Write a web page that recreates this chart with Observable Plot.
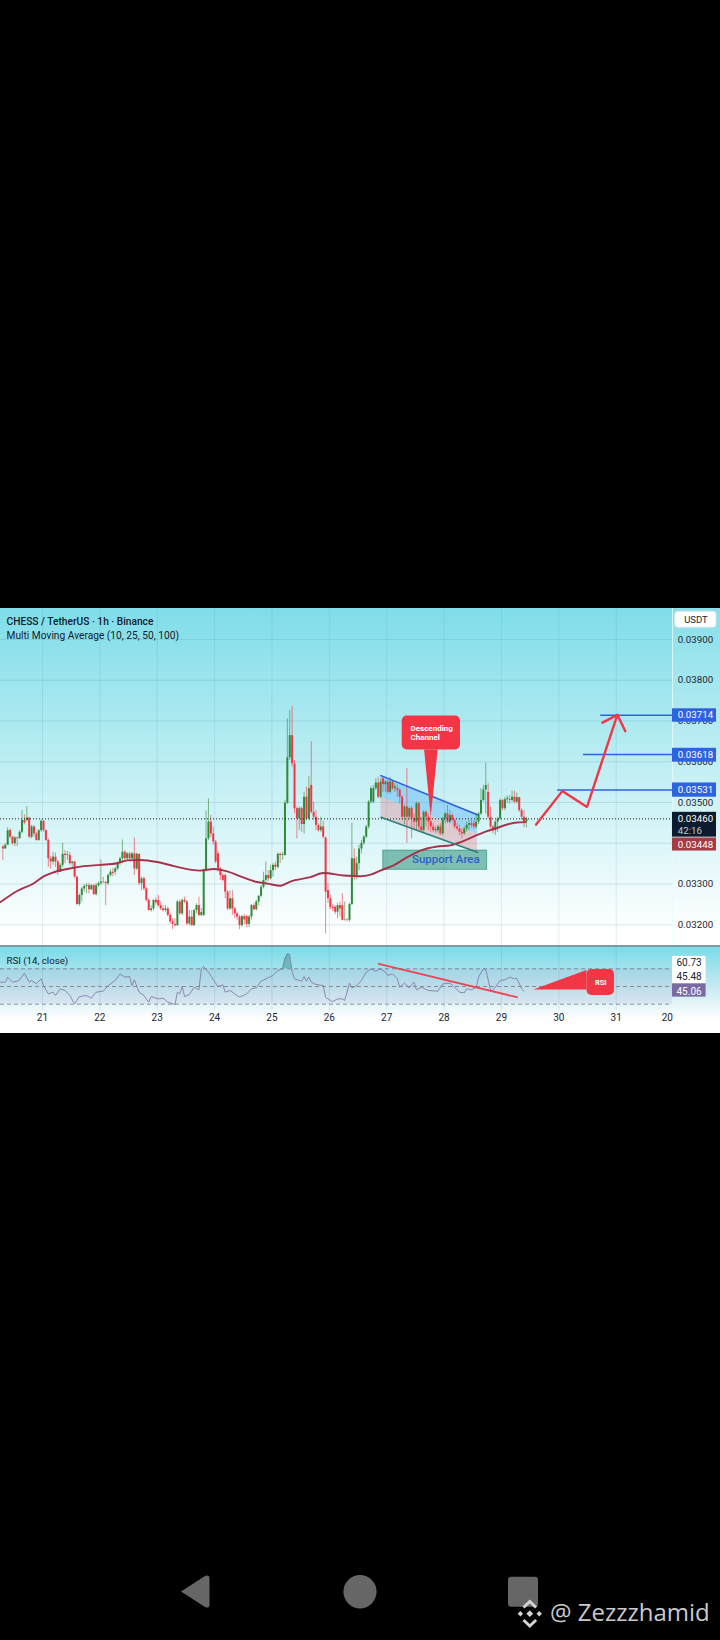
<!DOCTYPE html>
<html><head><meta charset="utf-8">
<script src="https://cdn.jsdelivr.net/npm/d3@7"></script>
<script src="https://cdn.jsdelivr.net/npm/@observablehq/plot@0.6"></script>
<style>
html,body{margin:0;padding:0;background:#000;width:720px;height:1640px;overflow:hidden;font-family:Roboto,sans-serif}
#main{position:absolute;left:0;top:608px;width:720px}
#rsi{position:absolute;left:0;top:946px;width:720px}
#divider{position:absolute;left:0;top:945px;width:720px;height:2px;background:#7d99a6}
#foot{position:absolute;left:0;top:1540px}
#handle{position:absolute;left:550px;top:1595px;font:400 24px "Open Sans",sans-serif;color:#c9c9ce;white-space:nowrap}
</style></head><body>
<div id="main"></div><div id="rsi"></div><div id="divider"></div>
<svg id="foot" width="720" height="100" viewBox="0 1540 720 100">
<path d="M181 1591.5 L205 1576 Q209.5 1574 209.5 1578.5 L209.5 1604.5 Q209.5 1609 205 1607 Z" fill="#666"/>
<ellipse cx="360" cy="1591.7" rx="16.6" ry="16.7" fill="#666"/>
<rect x="508" y="1576.7" width="30" height="30" rx="3" fill="#666"/>
<g fill="none" stroke="#d4d4d8" stroke-width="3"><path d="M523.5 1607.5 L529.8 1601.5 L536.1 1607.5"/><path d="M523.5 1620 L529.8 1626 L536.1 1620"/></g>
<g fill="#d4d4d8"><rect x="527.4" y="1611.3" width="4.8" height="4.8" transform="rotate(45 529.8 1613.7)"/><rect x="518.5" y="1611.8" width="3.8" height="3.8" transform="rotate(45 520.4 1613.7)"/><rect x="537.3" y="1611.8" width="3.8" height="3.8" transform="rotate(45 539.2 1613.7)"/></g>
</svg>
<div id="handle">@ Zezzzhamid</div>
<script>
// ---- time axis ----
const startDay = 20.268, endDay = 32.818, axisEdgeDay = 31.981;
const gridDays = [21,22,23,24,25,26,27,28,29,30,31];
const tickDays = [21,22,23,24,25,26,27,28,29,30,31,31.89];
const tickLabels = ["21","22","23","24","25","26","27","28","29","30","31","20"];
// ---- hourly candles, price x 1e-5 ----
const opens = [
3391,3386,3395,3431,3415,3399,3413,3411,3427,3456,
3456,3462,3415,3440,3423,3407,3431,3454,3431,3407,
3362,3354,3366,3354,3329,3346,3373,3370,3370,3350,
3354,3317,3250,3272,3288,3294,3296,3286,3296,3274,
3296,3301,3305,3304,3301,3321,3329,3329,3337,3350,
3362,3378,3362,3374,3362,3374,3337,3373,3301,3313,
3288,3260,3235,3239,3260,3260,3247,3239,3235,3239,
3223,3207,3201,3198,3256,3227,3260,3256,3202,3219,
3198,3235,3247,3223,3223,3333,3411,3452,3423,3403,
3374,3337,3321,3321,3280,3239,3264,3239,3227,3219,
3198,3220,3220,3201,3219,3247,3237,3256,3270,3292,
3309,3321,3313,3333,3346,3341,3373,3370,3370,3498,
3610,3664,3595,3485,3460,3485,3446,3513,3460,3542,
3476,3464,3444,3431,3440,3413,3284,3264,3243,3243,
3231,3247,3247,3211,3212,3211,3250,3362,3321,3350,
3386,3400,3415,3440,3501,3501,3534,3548,3513,3558,
3544,3550,3525,3550,3534,3534,3530,3513,3464,3489,
3464,3485,3460,3452,3497,3440,3431,3476,3464,3452,
3440,3431,3431,3440,3423,3460,3472,3452,3468,3456,
3440,3435,3427,3423,3435,3444,3448,3448,3440,3452,
3472,3505,3531,3525,3464,3440,3431,3452,3460,3505,
3485,3507,3507,3505,3513,3501,3512,3480,3464,3452];
const closes = [
3386,3395,3431,3415,3399,3413,3411,3427,3456,3450,
3462,3415,3440,3423,3407,3431,3454,3431,3407,3362,
3354,3366,3354,3329,3346,3373,3370,3372,3350,3354,
3317,3250,3272,3288,3294,3296,3286,3296,3274,3296,
3301,3305,3304,3301,3321,3329,3326,3337,3350,3362,
3378,3362,3374,3362,3374,3337,3373,3301,3313,3288,
3260,3235,3239,3260,3254,3247,3239,3235,3239,3223,
3207,3201,3198,3256,3227,3260,3256,3202,3219,3198,
3235,3247,3223,3230,3333,3411,3452,3423,3403,3354,
3337,3321,3309,3280,3239,3264,3239,3227,3219,3198,
3220,3212,3201,3219,3247,3237,3256,3270,3292,3309,
3321,3313,3333,3346,3341,3373,3370,3372,3498,3610,
3664,3595,3485,3460,3485,3446,3513,3460,3534,3476,
3464,3444,3431,3440,3415,3280,3264,3243,3240,3231,
3247,3239,3211,3212,3211,3250,3362,3321,3350,3386,
3400,3415,3440,3501,3534,3534,3548,3513,3550,3544,
3550,3525,3550,3534,3538,3530,3513,3464,3489,3464,
3485,3460,3452,3497,3440,3431,3476,3464,3452,3440,
3431,3434,3440,3423,3460,3472,3452,3468,3456,3440,
3435,3427,3423,3435,3444,3448,3444,3440,3452,3472,
3505,3531,3542,3464,3440,3431,3452,3460,3505,3485,
3507,3510,3505,3513,3501,3512,3480,3464,3452,3460];
const highs = [
3395,3399,3438,3435,3417,3417,3415,3431,3480,3470,
3490,3464,3444,3444,3427,3433,3458,3456,3433,3411,
3368,3378,3376,3358,3350,3400,3382,3380,3378,3356,
3356,3319,3276,3292,3299,3301,3302,3299,3299,3301,
3305,3359,3317,3306,3325,3335,3338,3341,3354,3366,
3408,3382,3378,3378,3378,3413,3376,3374,3317,3317,
3292,3264,3247,3261,3266,3272,3256,3247,3247,3243,
3227,3215,3215,3260,3261,3264,3268,3260,3235,3235,
3239,3252,3268,3240,3337,3479,3509,3468,3440,3407,
3381,3341,3325,3325,3284,3283,3284,3243,3231,3223,
3223,3225,3223,3223,3250,3252,3260,3272,3296,3329,
3354,3333,3346,3350,3354,3376,3376,3378,3505,3705,
3726,3736,3603,3489,3489,3489,3525,3538,3564,3649,
3501,3480,3448,3464,3454,3415,3301,3272,3250,3247,
3253,3256,3276,3256,3215,3253,3449,3386,3366,3395,
3407,3419,3444,3505,3539,3542,3558,3562,3558,3562,
3554,3554,3562,3554,3545,3542,3534,3517,3493,3583,
3489,3490,3472,3501,3501,3464,3480,3480,3472,3464,
3448,3440,3444,3448,3464,3476,3493,3480,3472,3460,
3448,3444,3435,3440,3452,3456,3456,3456,3472,3476,
3534,3542,3597,3546,3489,3444,3456,3464,3509,3507,
3513,3516,3517,3528,3528,3523,3513,3485,3480,3464];
const lows = [
3358,3386,3395,3411,3395,3392,3392,3411,3423,3445,
3452,3411,3411,3415,3405,3405,3427,3427,3405,3341,
3337,3346,3341,3321,3329,3341,3350,3358,3346,3341,
3313,3247,3245,3256,3280,3276,3276,3284,3272,3271,
3292,3296,3301,3247,3296,3317,3318,3321,3333,3346,
3350,3358,3358,3358,3358,3321,3333,3296,3284,3284,
3256,3234,3231,3234,3248,3243,3235,3231,3231,3219,
3202,3188,3194,3196,3223,3223,3252,3198,3198,3196,
3196,3227,3220,3220,3220,3329,3407,3415,3395,3350,
3329,3309,3305,3264,3235,3235,3223,3215,3211,3188,
3194,3200,3193,3193,3212,3234,3234,3247,3266,3288,
3296,3305,3310,3317,3333,3337,3350,3358,3368,3495,
3603,3587,3472,3411,3431,3427,3423,3456,3456,3472,
3456,3431,3427,3427,3411,3178,3252,3237,3232,3225,
3215,3219,3209,3209,3207,3207,3247,3309,3310,3333,
3374,3395,3411,3435,3497,3497,3530,3509,3509,3525,
3525,3521,3521,3530,3525,3513,3497,3456,3446,3400,
3456,3411,3431,3431,3431,3427,3427,3440,3431,3427,
3427,3425,3425,3419,3419,3448,3448,3448,3452,3435,
3430,3419,3411,3419,3427,3431,3437,3435,3435,3446,
3468,3501,3472,3460,3435,3423,3419,3427,3456,3480,
3480,3498,3497,3501,3497,3497,3476,3456,3438,3438];
// ---- moving average ----
const maDays = [20.27,20.56,20.85,21.02,21.20,21.43,21.72,22.01,22.30,22.48,22.71,23.00,23.29,23.75,23.99,24.22,24.45,24.74,24.92,25.15,25.32,25.67,25.90,26.25,26.54,26.72,26.89,27.12,27.36,27.59,27.88,28.11,28.29,28.52,28.69,28.87,29.10,29.27,29.42];
const maPrices = [3256,3283,3302,3319,3329,3337,3344,3347,3351,3358,3359,3354,3344,3333,3337,3331,3319,3305,3301,3296,3306,3317,3327,3321,3319,3323,3333,3346,3366,3382,3392,3395,3403,3417,3427,3435,3446,3451,3452];
// ---- price axis ----
const priceTicks = [3900,3800,3700,3600,3500,3300,3200];
const gridPrices = [3900,3800,3700,3600,3500,3400,3300,3200];
const lastPrice = 3460;
// ---- drawings on the price pane ----
const channelDays = [26.90,28.58];
const channelTop = [3566,3470];
const channelMid = [3513,3423];
const channelLow = [3464,3378];
const levelPrices = [3714,3618,3531];
const levelStarts = [30.73,30.43,29.98];
const forecastDays = [29.604,30.06,30.49,31.02];
const forecastPrices = [3446,3528,3489,3715];
const arrowDays = [30.76,31.02,31.16];
const arrowPrices = [3696,3715,3675];
const calloutPointDays = [27.66,27.775,27.897];
const calloutPointPrices = [3629,3464,3629];
// ---- RSI ----
const rsiHours = [0,2,3,5,7,8,10,12,13,15,17,18,20,22,23,25,27,29,31,33,36,38,40,43,45,48,50,52,54,55,56,58,60,62,63,66,68,70,73,74,75,76,77,79,81,83,84,85,87,90,91,93,94,96,98,100,103,105,107,109,114,116,118,119,120,121,122,123,126,127,128,129,130,132,135,136,138,139,141,143,144,146,147,149,151,153,155,157,159,161,162,164,166,167,169,171,173,174,176,179,183,185,188,190,192,194,195,197,199,200,202,203,205,206,209,211,213,215,216,218,219];
const rsiValues = [54.9,54.9,60.6,54.9,56,57.5,65.1,54.9,56.8,53,58.7,51.1,41.7,43.6,39.8,47.4,45.5,39.8,30.4,38.7,39.8,36.8,43.6,44.7,51.1,56.8,64.3,60.6,61.3,51.1,57.5,43.6,39.8,32.3,38.7,36,36.8,32.3,29.6,43.6,41.7,50,38.7,40.9,49.2,46.2,70,72.6,66.2,53.8,50,51.9,43.6,45.5,41.7,37.9,41.7,47.4,48.5,56,62.5,68.1,70,81.3,87,86.2,66.2,58.7,56,61.3,56,60.6,54.9,52.3,51.1,37.9,34.2,33,36,36,34.2,53.8,48.5,51.1,56.8,66.2,70,67.4,70,66.2,62.5,64.3,58.7,49.2,53.8,48.5,54.9,46.2,49.2,45.5,44.7,53,53.8,49.2,43.6,42.8,47.4,46.2,49.2,60.6,70,68.9,46.2,45.5,56.8,57.5,60.6,58.7,59.4,47.4,44.7];
const rsiBands = [70,50,30];
const rsiPeakHours = [118,119,120,121,122];
const rsiPeakValues = [70,81.3,87,86.2,70];
const trendDays = [26.86,29.27];
const trendValues = [75.7,37.9];
const rsiCalloutDays = [29.564,30.49,30.49];
const rsiCalloutValues = [46.2,68,47.4];
// ---- text ----
const titleLine = "CHESS / TetherUS \u00b7 1h \u00b7 Binance";
const indicatorLine = "Multi Moving Average (10, 25, 50, 100)";
const rsiLine = "RSI (14, close)";

const FONT = "Roboto, sans-serif";
const RED = "#f23645", GREEN = "#2e8b3a", BLUE = "#2f62e0";
const hourDay = h => startDay + h / 24;
const fmt = p => (p / 1e5).toFixed(5);
const zip = (a, b) => a.map((v, i) => [v, b[i]]);

const candles = opens.map((o, i) => ({t: hourDay(i + 1), o, c: closes[i], h: highs[i], l: lows[i]}));
const up = candles.filter(d => d.c >= d.o), down = candles.filter(d => d.c < d.o);
const channel = channelDays.map((d, i) => ({d, top: channelTop[i], mid: channelMid[i], low: channelLow[i]}));
const tags = [
  {y1: 3697, y2: 3730, fill: BLUE}, {y1: 3599, y2: 3633, fill: BLUE}, {y1: 3513, y2: 3548, fill: BLUE},
  {y1: 3415, y2: 3476, fill: "#0d1b2e"}, {y1: 3381, y2: 3413, fill: "#a63a45"}
];
const tagText = [
  {y: 3714, t: "0.03714", f: "#fff"}, {y: 3617, t: "0.03618", f: "#fff"}, {y: 3531, t: "0.03531", f: "#fff"},
  {y: 3460, t: "0.03460", f: "#fff"}, {y: 3431, t: "42:16", f: "#c3c8d0"}, {y: 3397, t: "0.03448", f: "#fff"}
];
const mainPlot = Plot.plot({
  width: 720, height: 338, margin: 0,
  style: {background: "linear-gradient(#7fdde9 0%, #c9f1f5 55%, #ffffff 96%)", fontFamily: FONT},
  x: {domain: [startDay, endDay], range: [0, 720], axis: null},
  y: {domain: [3146.8, 3976], axis: null},
  marks: [
    Plot.rect([0], {x1: axisEdgeDay, x2: endDay, y1: 3146.8, y2: 3976, fill: "#fff", fillOpacity: 0.08}),
    Plot.ruleY(gridPrices, {x1: startDay, x2: axisEdgeDay, stroke: "#4b8ea3", strokeOpacity: 0.2}),
    Plot.ruleX(gridDays, {stroke: "#4b8ea3", strokeOpacity: 0.15}),
    Plot.ruleX([axisEdgeDay], {stroke: "#e8fbfd", strokeOpacity: 0.8}),
    Plot.areaY(channel, {x: "d", y1: "top", y2: "mid", fill: "#2196f3", fillOpacity: 0.3}),
    Plot.areaY(channel, {x: "d", y1: "mid", y2: "low", fill: RED, fillOpacity: 0.22}),
    Plot.rect([0], {x1: 26.94, x2: 28.75, y1: 3335, y2: 3382, fill: "#17856a", fillOpacity: 0.5, stroke: "#17856a", strokeOpacity: 0.6}),
    Plot.ruleX(up, {x: "t", y1: "l", y2: "h", stroke: GREEN, strokeOpacity: 0.6, strokeWidth: 1}),
    Plot.ruleX(down, {x: "t", y1: "l", y2: "h", stroke: RED, strokeOpacity: 0.6, strokeWidth: 1}),
    Plot.ruleX(up, {x: "t", y1: "o", y2: "c", stroke: GREEN, strokeWidth: 2}),
    Plot.ruleX(down, {x: "t", y1: "o", y2: "c", stroke: RED, strokeWidth: 2}),
    Plot.ruleY([lastPrice], {x1: startDay, x2: axisEdgeDay, stroke: "#1a1a1a", strokeDasharray: "1,2", strokeWidth: 1}),
    Plot.line(zip(maDays, maPrices), {stroke: "#a5314a", strokeWidth: 1.9, curve: "monotone-x"}),
    Plot.line(zip(channelDays, channelTop), {stroke: "#2a5fe0", strokeWidth: 1.6}),
    Plot.line(zip(channelDays, channelLow), {stroke: "#2d7f78", strokeWidth: 1.6}),
    Plot.text(["Support Area"], {x: 28.03, y: 3360, fill: "#2e62c4", fontSize: 11.5, fontWeight: 500}),
    Plot.ruleY(levelPrices, {x1: (d, i) => levelStarts[i], x2: axisEdgeDay, stroke: BLUE, strokeWidth: 1.5}),
    Plot.line(zip(forecastDays, forecastPrices), {stroke: RED, strokeWidth: 2.4, strokeLinejoin: "miter"}),
    Plot.line(zip(arrowDays, arrowPrices), {stroke: RED, strokeWidth: 2.4, strokeLinejoin: "miter"}),
    Plot.areaY(zip(calloutPointDays, calloutPointPrices), {x: "0", y1: 3629, y2: "1", fill: RED}),
    Plot.rect([0], {x1: 27.27, x2: 28.286, y1: 3629, y2: 3712, fill: RED, rx: 5}),
    Plot.text(["Descending", "Channel"], {x: 27.415, y: [3681, 3660], textAnchor: "start", fill: "#fff", fontSize: 8, fontWeight: 700}),
    Plot.text(priceTicks, {x: 32.075, y: d => d, text: fmt, textAnchor: "start", fill: "#1b2533", fontSize: 9.7}),
    Plot.rect(tags, {x1: axisEdgeDay, x2: 32.748, y1: "y1", y2: "y2", fill: "fill"}),
    Plot.text(tagText, {x: 32.075, y: "y", text: "t", fill: "f", textAnchor: "start", fontSize: 9.7}),
    Plot.rect([0], {x1: 32.03, x2: 32.748, y1: 3929, y2: 3968, fill: "#fff", stroke: "#d9e4e8", rx: 3}),
    Plot.text(["USDT"], {x: 32.39, y: 3947, fill: "#1b2533", fontSize: 9.5}),
    Plot.text([titleLine], {frameAnchor: "top-left", dx: 6, dy: 13.7, lineAnchor: "middle", textAnchor: "start", fill: "#13202c", fontSize: 10.2, fontWeight: 500}),
    Plot.text([indicatorLine], {frameAnchor: "top-left", dx: 6, dy: 27.5, lineAnchor: "middle", textAnchor: "start", fill: "#13202c", fontSize: 10.2})
  ]
});
document.getElementById("main").append(mainPlot);

const rsi = rsiHours.map((h, i) => [hourDay(h), rsiValues[i]]);
const rsiPeak = rsiPeakHours.map((h, i) => ({d: hourDay(h), v: rsiPeakValues[i]}));
const rsiPlot = Plot.plot({
  width: 720, height: 87, marginTop: 0, marginLeft: 0, marginRight: 0, marginBottom: 23,
  style: {background: "linear-gradient(#78dbe8 0%, #c3e9f1 45%, #ffffff 84%)", fontFamily: FONT},
  x: {domain: [startDay, endDay], range: [0, 720], axis: null},
  y: {domain: [22.9, 95.2], axis: null},
  marks: [
    Plot.ruleX(gridDays, {stroke: "#4b8ea3", strokeOpacity: 0.18}),
    Plot.rect([0], {x1: startDay, x2: axisEdgeDay, y1: 30, y2: 70, fill: "#8d80b5", fillOpacity: 0.13}),
    Plot.ruleY(rsiBands, {x1: startDay, x2: axisEdgeDay, stroke: "#6d6a78", strokeOpacity: 0.7, strokeDasharray: "4,3", strokeWidth: 1}),
    Plot.areaY(rsiPeak, {x: "d", y1: 70, y2: "v", fill: "#2e8b7a", fillOpacity: 0.45}),
    Plot.line(rsi, {stroke: "#8577a6", strokeWidth: 1, strokeOpacity: 0.85}),
    Plot.line(zip(trendDays, trendValues), {stroke: RED, strokeWidth: 1.8, strokeOpacity: 0.9}),
    Plot.areaY(zip(rsiCalloutDays, rsiCalloutValues), {x: "0", y1: 46.2, y2: "1", fill: RED, curve: "linear"}),
    Plot.rect([0], {x1: 30.49, x2: 30.97, y1: 39.8, y2: 69.2, fill: RED, rx: 5}),
    Plot.text(["RSI"], {x: 30.73, y: 54.9, fill: "#fff", fontSize: 7.5, fontWeight: 700}),
    Plot.rect([0], {x1: axisEdgeDay, x2: 32.567, y1: 53, y2: 84, fill: "#fff"}),
    Plot.rect([0], {x1: axisEdgeDay, x2: 32.567, y1: 38, y2: 53, fill: "#7a6aa3"}),
    Plot.text(["60.73", "45.48"], {x: 32.27, y: [76.4, 60.6], fill: "#1b2533", fontSize: 10}),
    Plot.text(["45.06"], {x: 32.27, y: 44.3, fill: "#fff", fontSize: 10}),
    Plot.text([rsiLine], {frameAnchor: "top-left", dx: 6, dy: 14.7, lineAnchor: "middle", textAnchor: "start", fill: "#13202c", fontSize: 9.7}),
    Plot.axisX({ticks: tickDays, tickFormat: (d, i) => tickLabels[i], tickSize: 0, tickPadding: 3, anchor: "bottom", label: null, fill: "#1b2533", fontSize: 10})
  ]
});
document.getElementById("rsi").append(rsiPlot);
</script>
</body></html>
